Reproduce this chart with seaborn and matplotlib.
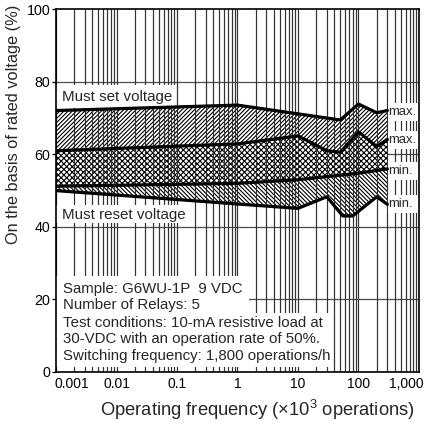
import numpy as np
import pandas as pd
import matplotlib
matplotlib.use("Agg")
import matplotlib.pyplot as plt
import matplotlib.transforms as mtransforms
from matplotlib.patches import Rectangle
import seaborn as sns

# ---- data ----
set_max_x = [0.001, 1, 50, 100, 200, 300]
set_max_y = [72.1, 73.6, 69.5, 73.9, 71.5, 72.1]

set_min_x = [0.001, 1, 10, 30, 50, 100, 200, 300]
set_min_y = [61.0, 62.9, 65.1, 61.0, 60.6, 66.2, 62.2, 64.1]

reset_max_x = [0.001, 1, 10, 100, 300]
reset_max_y = [51.2, 52.0, 53.0, 54.8, 56.0]

reset_min_x = [0.001, 1, 10, 30, 55, 80, 200, 300]
reset_min_y = [50.0, 46.3, 45.1, 48.3, 43.0, 43.0, 48.3, 46.2]

x_ticks = [0.001, 0.01, 0.1, 1, 10, 100, 1000]
x_tick_labels = ["0.001", "0.01", "0.1", "1", "10", "100", "1,000"]
y_ticks = [0, 20, 40, 60, 80, 100]

end_labels = ["max.", "max.", "min.", "min."]

sample_lines_a = "Sample: G6WU-1P  9 VDC\nNumber of Relays: 5"
sample_lines_b = ("Test conditions: 10-mA resistive load at\n"
                  "30-VDC with an operation rate of 50%.\n"
                  "Switching frequency: 1,800 operations/h")

# ---- style ----
sns.set_theme(style="white")
plt.rcParams["font.family"] = ["Liberation Sans", "DejaVu Sans"]
plt.rcParams["mathtext.default"] = "regular"
plt.rcParams["hatch.linewidth"] = 0.8
plt.rcParams["hatch.color"] = "black"

W, H = 427, 423
fig = plt.figure(figsize=(W / 100, H / 100), dpi=100)
L, R, T, B = 56, 419, 9.5, 371.7
ax = fig.add_axes([L / W, 1 - B / H, (R - L) / W, (B - T) / H])
ax.set_xscale("log")
ax.set_xlim(0.001, 1000)
ax.set_ylim(0, 100)

# grid lines
for dec in range(-3, 3):
    for m in range(1, 10):
        xv = m * 10.0 ** dec
        ax.axvline(xv, color="0.2", lw=0.8, zorder=1)
for yv in [20, 40, 60, 80]:
    ax.axhline(yv, color="0.3", lw=0.9, zorder=1)

# hatched bands
def band(xa, ya, xb, yb, hatch):
    px = np.concatenate([np.array(xa, float), np.array(xb, float)[::-1]])
    py = np.concatenate([np.array(ya, float), np.array(yb, float)[::-1]])
    ax.fill(px, py, facecolor="white", edgecolor="black", hatch=hatch,
            lw=0, zorder=2)

band(set_max_x, set_max_y, set_min_x, set_min_y, "/" * 8)
band(set_min_x, set_min_y, reset_max_x, reset_max_y, "x" * 6)
band(reset_max_x, reset_max_y, reset_min_x, reset_min_y, "\\" * 8)

# redraw grid lines over hatch
for dec in range(-3, 3):
    for m in range(1, 10):
        xv = m * 10.0 ** dec
        ax.axvline(xv, color="0.2", lw=0.8, zorder=2.2)

# boundary lines
frames = []
for name, xs, ys in [("set_max", set_max_x, set_max_y),
                     ("set_min", set_min_x, set_min_y),
                     ("reset_max", reset_max_x, reset_max_y),
                     ("reset_min", reset_min_x, reset_min_y)]:
    frames.append(pd.DataFrame({"freq": xs, "volt": ys, "curve": name}))
df = pd.concat(frames, ignore_index=True)
for name, g in df.groupby("curve", sort=False):
    sns.lineplot(data=g, x="freq", y="volt", ax=ax, color="black", lw=2.3,
                 estimator=None, sort=False, zorder=4, legend=False)

# white boxes covering grid (pixel positions -> axes fraction)
def white_box(x0, y0, x1, y1):
    ax.add_patch(Rectangle(((x0 - L) / (R - L), (B - y1) / (B - T)),
                           (x1 - x0) / (R - L), (y1 - y0) / (B - T),
                           transform=ax.transAxes, facecolor="white",
                           edgecolor="none", zorder=3))

white_box(L, 85, 176, 108)      # Must set voltage
white_box(L, 205, 191, 223.5)   # Must reset voltage
white_box(L, 276, 249, 313)     # sample block a
white_box(L, 313, 331, 366.5)   # sample block b
for yc in [112, 140, 171, 204]:
    white_box(388, yc - 9, R - 0.5, yc + 9)

def ptext(x, y, s, **kw):
    ax.text((x - L) / (R - L), (B - y) / (B - T), s, transform=ax.transAxes,
            zorder=5, **kw)

ptext(62, 97, "Must set voltage", fontsize=10.9, va="center", ha="left")
ptext(62, 215, "Must reset voltage", fontsize=10.9, va="center", ha="left")
for yc, lab in zip([112, 140, 171, 204], end_labels):
    ptext(388, yc, lab, fontsize=9.4, va="center", ha="left")
ptext(63, 281.5, sample_lines_a, fontsize=10.8, va="top", ha="left", linespacing=1.26)
ptext(63, 315.5, sample_lines_b, fontsize=10.8, va="top", ha="left", linespacing=1.26)

# ticks
ax.set_xticks(x_ticks)
ax.set_xticklabels(x_tick_labels)
ax.xaxis.set_minor_locator(matplotlib.ticker.NullLocator())
ax.set_yticks(y_ticks)
ax.set_yticklabels([str(v) for v in y_ticks])
ax.tick_params(axis="x", length=0, pad=4, labelsize=10, colors="black")
ax.tick_params(axis="y", length=3, width=0.9, pad=1, labelsize=10.3,
               direction="out", left=True, colors="black")
labs = ax.get_xticklabels()
labs[0].set_transform(labs[0].get_transform() +
                      mtransforms.ScaledTranslation(16 / 100, 0, fig.dpi_scale_trans))
labs[-1].set_transform(labs[-1].get_transform() +
                       mtransforms.ScaledTranslation(-13 / 100, 0, fig.dpi_scale_trans))

for s in ax.spines.values():
    s.set_color("black")
    s.set_linewidth(1.2)
    s.set_zorder(6)

ax.set_xlabel("")
ax.set_ylabel("")
fig.text(257.5 / W, 1 - 410 / H, "Operating frequency (×10$^{3}$ operations)",
         ha="center", va="center", fontsize=13.2)
fig.text(14 / W, 1 - 124 / H, "On the basis of rated voltage (%)",
         ha="center", va="center", rotation=90, fontsize=11.8)

fig.savefig("out.png", dpi=100, facecolor="white")
